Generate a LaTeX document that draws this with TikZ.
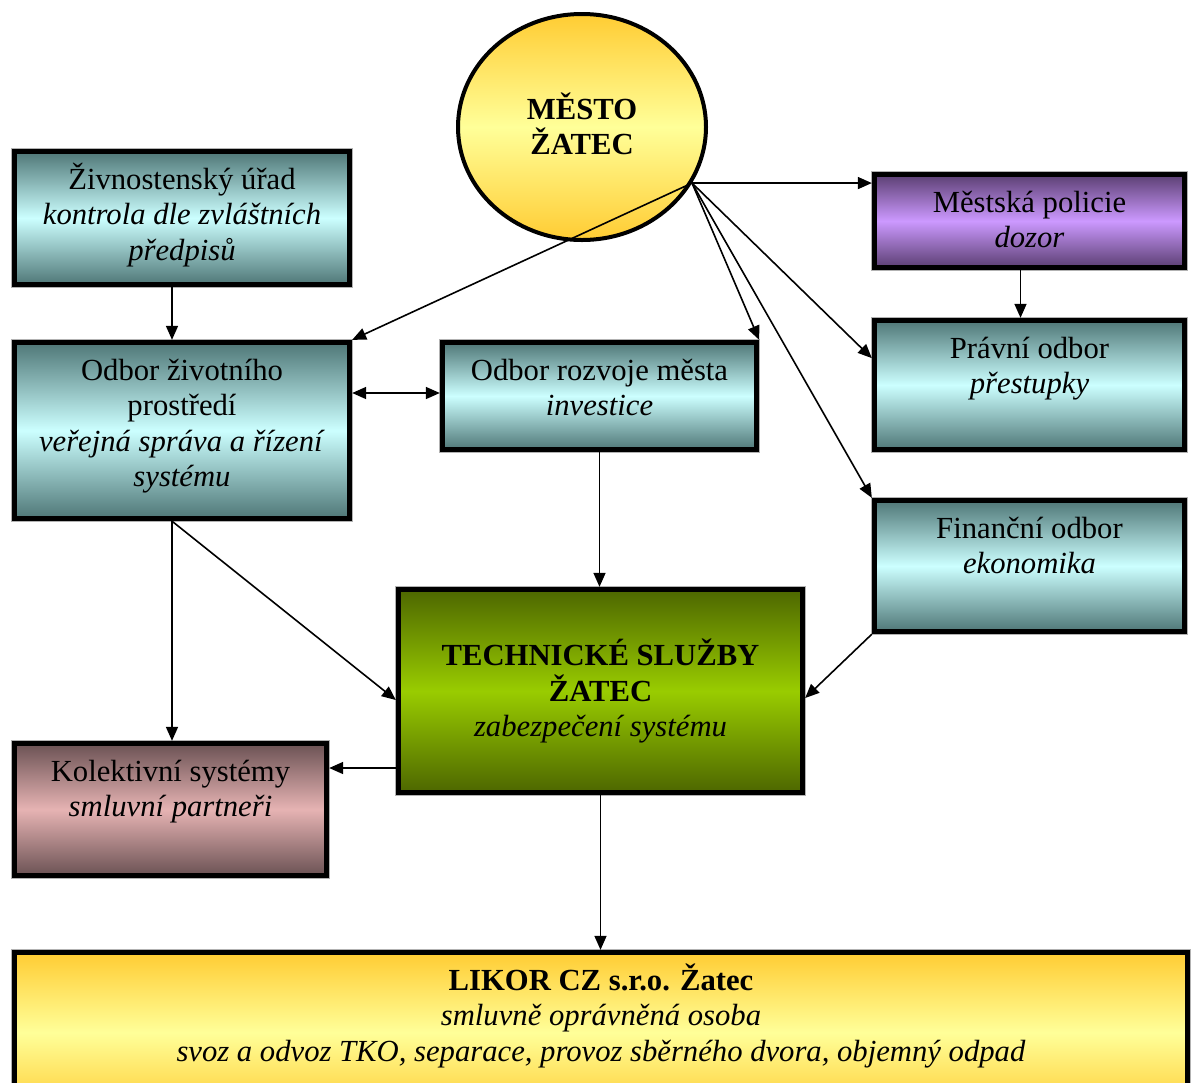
\documentclass[tikz,border=0pt]{standalone}
\usepackage{fontspec}
\setmainfont{Liberation Serif}
\usetikzlibrary{arrows.meta,shapes.geometric,calc}
\definecolor{tealdark}{HTML}{4F7777}
\definecolor{teallight}{HTML}{CCFFFF}
\definecolor{purpdark}{HTML}{5B3F72}
\definecolor{purplight}{HTML}{CC99FF}
\definecolor{roseldark}{HTML}{6B5254}
\definecolor{roselight}{HTML}{E6B3B3}
\definecolor{greendark}{HTML}{4D6600}
\definecolor{greenlight}{HTML}{99CC00}
\definecolor{golddark}{HTML}{FFCC33}
\definecolor{goldlight}{HTML}{FFFF99}
\newcommand\boxtxt[3]{\parbox[c][#2][t]{#1}{\centering\rule{0pt}{28.5pt}#3}}
\begin{document}
\begin{tikzpicture}[x=0.75pt,y=-0.75pt,
  font=\fontsize{23}{26.5}\selectfont,
  box/.style={rectangle, draw=black, line width=4pt, inner sep=0pt,
    preaction={draw=gray!60, line width=5.5pt}},
  tealbox/.style={box, top color=tealdark, bottom color=tealdark, middle color=teallight},
  purpbox/.style={box, top color=purpdark, bottom color=purpdark, middle color=purplight},
  rosebox/.style={box, top color=roseldark, bottom color=roseldark, middle color=roselight},
  greenbox/.style={box, top color=greendark, bottom color=greendark, middle color=greenlight},
  goldbox/.style={box, top color=golddark, bottom color=golddark, middle color=goldlight},
  arr/.style={-{Triangle[length=10.5pt,width=9pt]}, line width=1.2pt},
  darr/.style={{Triangle[length=10.5pt,width=9pt]}-{Triangle[length=10.5pt,width=9pt]}, line width=1.2pt}
]
\useasboundingbox (0,0) rectangle (1191,1082);

\node[ellipse, draw=black, line width=3pt, inner sep=0pt,
  minimum width=186pt, minimum height=169.5pt,
  top color=golddark, bottom color=golddark, middle color=goldlight,
  label={[align=center, yshift=2.6pt, font=\fontsize{23}{26.5}\selectfont\bfseries]center:MĚSTO\\ŽATEC}] (mesto) at (582,127) {};

\node[tealbox] (ziv) at (182,218) {\boxtxt{251.25pt}{99.75pt}{Živnostenský úřad\\ \textit{kontrola dle zvláštních}\\ \textit{předpisů}}};
\node[tealbox] (oziv) at (182,430.5) {\boxtxt{251.25pt}{132pt}{Odbor životního\\ prostředí\\ \textit{veřejná správa a řízení}\\ \textit{systému}}};
\node[tealbox] (rozv) at (599.5,396) {\boxtxt{235.5pt}{80.25pt}{Odbor rozvoje města\\ \textit{investice}}};
\node[purpbox] (pol) at (1029.5,221) {\boxtxt{232.5pt}{69.75pt}{Městská policie\\ \textit{dozor}}};
\node[tealbox] (prav) at (1029.5,385) {\boxtxt{232.5pt}{96.75pt}{Právní odbor\\ \textit{přestupky}}};
\node[tealbox] (fin) at (1029.5,566) {\boxtxt{232.5pt}{98.25pt}{Finanční odbor\\ \textit{ekonomika}}};
\node[greenbox] (tech) at (600.5,691) {\parbox[c][152.25pt][c]{303pt}{\centering\textbf{TECHNICKÉ SLUŽBY}\\ \textbf{ŽATEC}\\ \textit{zabezpečení systému}}};
\node[rosebox] (kol) at (170.5,809.5) {\boxtxt{234pt}{99pt}{Kolektivní systémy\\ \textit{smluvní partneři}}};
\node[goldbox] (likor) at (601,1032.5) {\boxtxt{880pt}{120pt}{\textbf{LIKOR CZ s.r.o. Žatec}\\ \textit{smluvně oprávněná osoba}\\ \textit{svoz a odvoz TKO, separace, provoz sběrného dvora, objemný odpad}}};

\coordinate (hub) at (mesto.-27);

% connectors
\draw[arr] ($(ziv.south)+(-10,0)$) -- ($(oziv.north)+(-10,0)$);
\draw[arr] (hub) -- (oziv.north east);
\draw[arr] (hub) -- (hub -| pol.west);
\draw[arr] (hub) -- (rozv.north east);
\draw[arr] (hub) -- ($(prav.north west)!0.3!(prav.south west)$);
\draw[arr] (hub) -- (fin.north west);
\draw[arr] ($(pol.south)+(-9,0)$) -- ($(prav.north)+(-9,0)$);
\draw[darr] ($(rozv.west)+(0,-3)$) coordinate (r1) -- (r1 -| oziv.east);
\draw[arr] (rozv.south) -- (rozv.south |- tech.north);
\draw[arr] ($(oziv.south)+(-10,0)$) coordinate (o1) -- (o1 |- kol.north);
\draw[arr] (o1) -- ($(tech.west)+(0,9)$);
\draw[arr] (fin.south west) -- ($(tech.east)+(0,7)$);
\draw[arr] ($(tech.west)+(0,77)$) coordinate (t1) -- (t1 -| kol.east);
\draw[arr] (tech.south) -- (tech.south |- likor.north);
\end{tikzpicture}
\end{document}
